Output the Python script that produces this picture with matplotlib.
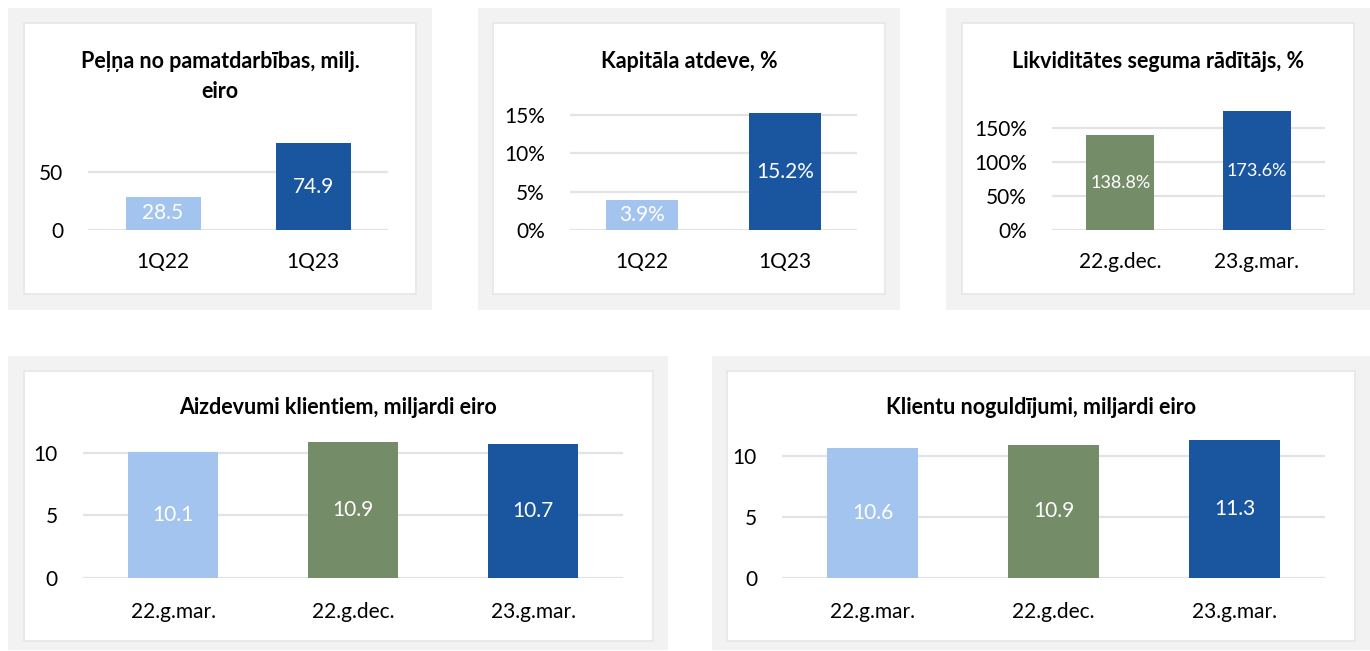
import matplotlib
matplotlib.use('Agg')
import matplotlib.pyplot as plt
from matplotlib.patches import Rectangle

plt.rcParams['font.family'] = ['Lato', 'DejaVu Sans']

W, H = 1370, 651

LIGHT = '#a3c4ee'
DARK = '#1a56a0'
GREEN = '#758c68'

# data
pelna_cats = ['1Q22', '1Q23']
pelna_vals = [28.5, 74.9]
pelna_ticks = [0, 50]

roe_cats = ['1Q22', '1Q23']
roe_vals = [3.9, 15.2]
roe_ticks = [0, 5, 10, 15]

lcr_cats = ['22.g.dec.', '23.g.mar.']
lcr_vals = [138.8, 173.6]
lcr_ticks = [0, 50, 100, 150]

loan_cats = ['22.g.mar.', '22.g.dec.', '23.g.mar.']
loan_vals = [10.1, 10.9, 10.7]
dep_cats = ['22.g.mar.', '22.g.dec.', '23.g.mar.']
dep_vals = [10.6, 10.9, 11.3]
bn_ticks = [0, 5, 10]


def fig_rect(x0, y0, x1, y1):
    # pixel box (top-left origin) -> figure fraction
    return [x0 / W, 1 - y1 / H, (x1 - x0) / W, (y1 - y0) / H]


def frame(fig, outer, inner):
    r = fig_rect(*outer)
    fig.add_artist(Rectangle((r[0], r[1]), r[2], r[3], transform=fig.transFigure,
                             facecolor='#f2f2f2', edgecolor='none', zorder=0))
    r = fig_rect(*inner)
    fig.add_artist(Rectangle((r[0], r[1]), r[2], r[3], transform=fig.transFigure,
                             facecolor='white', edgecolor='#e6e6e6', lw=1.2, zorder=0))


def bar_panel(fig, box, cats, vals, colors, ticks, ytop, labels, ticklabels, xpad, lab_size):
    ax = fig.add_axes(fig_rect(*box))
    ax.set_facecolor('none')
    x = range(len(cats))
    bars = ax.bar(x, vals, width=0.5, color=colors, zorder=2)
    ax.set_xlim(-0.5, len(cats) - 0.5)
    ax.set_ylim(0, ytop)
    ax.set_yticks(ticks)
    ax.set_yticklabels(ticklabels)
    ax.set_xticks(list(x))
    ax.set_xticklabels(cats)
    for s in ax.spines.values():
        s.set_visible(False)
    ax.tick_params(axis='both', length=0, labelsize=15, colors='#000000')
    ax.tick_params(axis='y', pad=18)
    ax.tick_params(axis='x', pad=xpad)
    ax.yaxis.grid(True, color='#e3e3e3', lw=1.6, zorder=0)
    ax.set_axisbelow(True)
    for b, lab in zip(bars, labels):
        ax.text(b.get_x() + b.get_width() / 2, b.get_height() / 2, lab,
                ha='center', va='center', color='white', fontsize=lab_size, zorder=3)
    return ax


fig = plt.figure(figsize=(W / 100, H / 100), dpi=100)

# frames
frame(fig, (8, 8, 432, 310), (24, 23, 416, 294))
frame(fig, (478, 8, 900, 310), (493, 23, 885, 294))
frame(fig, (946, 8, 1370, 310), (962, 23, 1354, 294))
frame(fig, (8, 356, 668, 650), (24, 371, 653, 641))
frame(fig, (712, 356, 1370, 650), (727, 371, 1355, 641))

bar_panel(fig, (88, 114, 388, 230), pelna_cats, pelna_vals, [LIGHT, DARK],
          pelna_ticks, 100, ['%.1f' % v for v in pelna_vals],
          [str(t) for t in pelna_ticks], 16, 15)
bar_panel(fig, (570, 107, 857, 230), roe_cats, roe_vals, [LIGHT, DARK],
          roe_ticks, 16, ['%.1f%%' % v for v in roe_vals],
          ['%d%%' % t for t in roe_ticks], 16, 15)
bar_panel(fig, (1052, 107, 1325, 230), lcr_cats, lcr_vals, [GREEN, DARK],
          lcr_ticks, 180, ['%.1f%%' % v for v in lcr_vals],
          ['%d%%' % t for t in lcr_ticks], 16, 13)
bar_panel(fig, (83, 434, 623, 578), loan_cats, loan_vals, [LIGHT, GREEN, DARK],
          bn_ticks, 11.5, ['%.1f' % v for v in loan_vals],
          [str(t) for t in bn_ticks], 17, 15)
bar_panel(fig, (782, 430, 1325, 578), dep_cats, dep_vals, [LIGHT, GREEN, DARK],
          bn_ticks, 12.1, ['%.1f' % v for v in dep_vals],
          [str(t) for t in bn_ticks], 17, 15)

title_kw = dict(ha='center', va='center', fontsize=15.5, fontweight='bold', color='#000000')
fig.text(220 / W, 1 - 61 / H, 'Peļņa no pamatdarbības, milj.', **title_kw)
fig.text(220 / W, 1 - 91 / H, 'eiro', **title_kw)
fig.text(689 / W, 1 - 61 / H, 'Kapitāla atdeve, %', **title_kw)
fig.text(1158 / W, 1 - 61 / H, 'Likviditātes seguma rādītājs, %', **title_kw)
fig.text(338 / W, 1 - 408 / H, 'Aizdevumi klientiem, miljardi eiro', **title_kw)
fig.text(1041 / W, 1 - 408 / H, 'Klientu noguldījumi, miljardi eiro', **title_kw)

fig.savefig('out.png', dpi=100)
